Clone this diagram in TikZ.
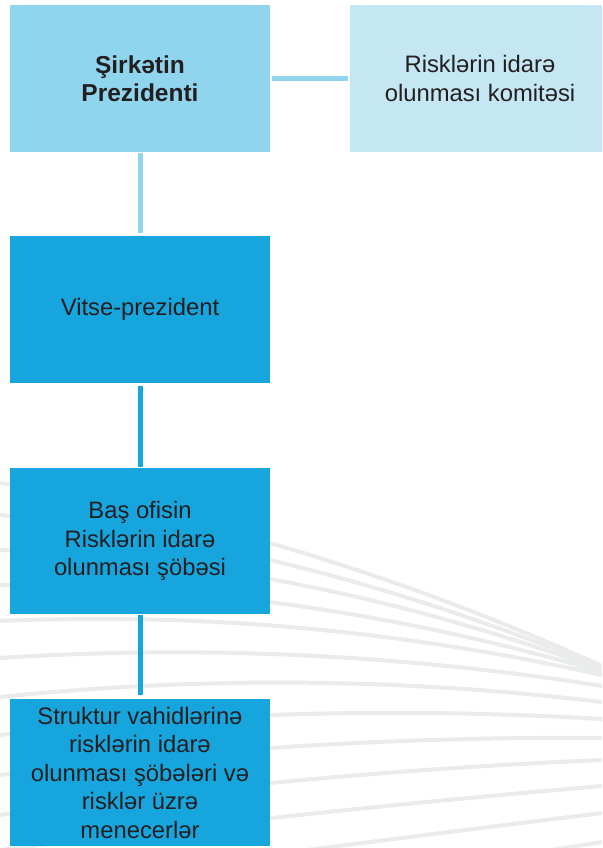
\documentclass[tikz,border=0pt]{standalone}
\usepackage{fontspec}
\setmainfont{Liberation Sans}
\definecolor{presblue}{RGB}{144,213,238}
\definecolor{commblue}{RGB}{196,231,243}
\definecolor{darkblue}{RGB}{23,165,222}
\definecolor{linegray}{RGB}{234,235,235}
\definecolor{txt}{RGB}{35,31,32}
\begin{document}
\begin{tikzpicture}[x=1pt,y=-1pt,
  box/.style={draw=none, inner sep=0pt, minimum width=260pt, minimum height=147pt,
    align=center, text=txt, font=\fontsize{23.8}{28.5}\selectfont},
  bgline/.style={draw=linegray, line width=4pt},
  link/.style={line width=5pt}]
\clip (0,0) rectangle (602,848);
\fill[white] (0,0) rectangle (602,848);
% background fan of lines
\draw[bgline] (0,483) .. controls (200.67,514.3) and (401.33,575.3) .. (602,666);
\draw[bgline] (0,515) .. controls (200.67,534.2) and (401.33,585.2) .. (602,668);
\draw[bgline] (0,550) .. controls (200.67,556.6) and (401.33,596.6) .. (602,670);
\draw[bgline] (0,585) .. controls (200.67,584.5) and (401.33,613.5) .. (602,672);
\draw[bgline] (0,621) .. controls (200.67,612.3) and (401.33,630.3) .. (602,675);
\draw[bgline] (0,658) .. controls (200.67,645.0) and (401.33,654.3) .. (602,686);
\draw[bgline] (0,697) .. controls (200.67,676.2) and (401.33,677.9) .. (602,702);
\draw[bgline] (0,735) .. controls (200.67,712.5) and (401.33,707.1) .. (602,719);
\draw[bgline] (0,775) .. controls (200.67,748.7) and (401.33,736.4) .. (602,738);
\draw[bgline] (0,815) .. controls (200.67,786.9) and (401.33,768.5) .. (602,760);
\draw[bgline] (0,850) .. controls (200.67,824.4) and (401.33,803.1) .. (602,786);
\draw[bgline] (0,890) .. controls (200.67,863.3) and (401.33,837.7) .. (602,813);
\draw[bgline] (0,930) .. controls (200.67,903.3) and (401.33,874.0) .. (602,842);
% boxes
\node[box, fill=presblue, font=\fontsize{24.5}{28.5}\selectfont\bfseries] (pres) at (140,78.5) {Şirkətin\\Prezidenti};
\node[box, fill=commblue] (comm) at (480,78.5) {Risklərin idarə\\olunması komitəsi};
\node[box, fill=darkblue] (vp) at (140,309.5) {Vitse-prezident};
\node[box, fill=darkblue, minimum height=146pt] (hq) at (140,541) {Baş ofisin\\Risklərin idarə\\olunması şöbəsi};
\node[box, fill=darkblue] (units) at (140,772.5) {Struktur vahidlərinə\\risklərin idarə\\olunması şöbələri və\\risklər üzrə\\menecerlər};
% connectors
\draw[link, draw=presblue, shorten <=2pt, shorten >=2pt] (pres.east) -- (comm.west);
\draw[link, draw=presblue, shorten <=1pt, shorten >=3pt] (pres.south) -- (vp.north);
\draw[link, draw=darkblue, shorten <=3pt, shorten >=1pt] (vp.south) -- (hq.north);
\draw[link, draw=darkblue, shorten <=1pt, shorten >=4pt] (hq.south) -- (units.north);
\end{tikzpicture}
\end{document}
